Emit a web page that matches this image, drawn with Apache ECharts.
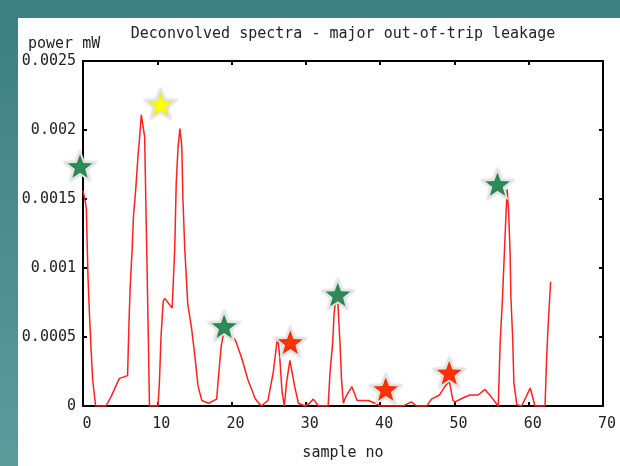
<!DOCTYPE html>
<html><head><meta charset="utf-8">
<script src="https://cdn.jsdelivr.net/npm/echarts@6/dist/echarts.min.js"></script>
<style>html,body{margin:0;padding:0;background:#fff}#c{width:620px;height:466px}</style>
</head><body><div id="c"></div>
<script>
// ---- data ----
const sampleNo = [0,0.25,0.45,0.67,0.85,1.07,1.3,1.7,3.1,3.8,4.9,6.0,6.2,6.35,6.6,6.8,7.1,7.4,7.6,7.85,8.1,8.3,8.45,8.6,8.75,8.95,10.1,10.3,10.5,10.8,11.0,12.0,12.35,12.55,12.8,13.05,13.3,13.45,13.7,14.1,14.6,15.0,15.5,16.0,16.9,18.0,18.2,18.6,18.9,19.2,20.5,21.4,22.2,23.2,24.0,24.9,25.6,26.1,26.25,26.5,26.8,27.1,27.4,27.85,28.5,29.0,29.9,30.5,31.0,31.7,33.0,33.25,33.6,33.8,34.05,34.3,34.6,34.8,35.05,35.4,36.2,36.9,38.4,39.3,40.0,43.1,44.2,44.9,46.3,46.9,48.0,48.7,49.3,49.8,50.1,51.2,52.1,53.2,54.1,54.9,55.9,56.15,56.45,56.7,56.95,57.1,57.3,57.5,57.6,57.85,58.0,58.4,59.05,60.2,60.85,62.2,62.4,62.6,62.95];
const powerMw = [0.00156,0.00150,0.00143,0.00094,0.00069,0.00043,0.00019,0,0,0.00007,0.00020,0.00022,0.00062,0.00086,0.00112,0.00138,0.00157,0.00181,0.00193,0.00211,0.00212,0.00195,0.00150,0.00108,0.00062,0,0,0.00019,0.00050,0.00076,0.00078,0.00071,0.00114,0.00162,0.00188,0.00201,0.00188,0.00150,0.00114,0.00074,0.00057,0.00039,0.00014,0.00004,0.00002,0.00005,0.00019,0.00043,0.00052,0.00053,0.00048,0.00034,0.00019,0.00005,0,0.00004,0.00024,0.00046,0.00049,0.00034,0.00010,0,0.00017,0.00033,0.00014,0.00002,0,0.00002,0.00005,0,0,0.00024,0.00045,0.00067,0.00079,0.00076,0.00045,0.00019,0.00002,0.00007,0.00014,0.00004,0.00004,0.00002,0,0,0.00003,0,0,0.00005,0.00008,0.00014,0.00018,0.00004,0.00003,0.00006,0.00008,0.00008,0.00012,0.00007,0,0.00045,0.00076,0.00108,0.00140,0.00157,0.00140,0.00110,0.00079,0.00048,0.00017,0.00001,0,0.00013,0,0,0.00033,0.00057,0.00090];

const greenStarX = [-0.4, 19.0, 34.3, 55.8];
const greenStarY = [0.00174, 0.00058, 0.00081, 0.00161];
const yellowStarX = [10.45];
const yellowStarY = [0.00219];
const redStarX = [27.9, 40.75, 49.3];
const redStarY = [0.000464, 0.000124, 0.000243];

const xTicks = [0, 10, 20, 30, 40, 50, 60, 70];
const yTicks = [0, 0.0005, 0.001, 0.0015, 0.002, 0.0025];

const titleText = 'Deconvolved spectra - major out-of-trip leakage';
const xName = 'sample no';
const yName = 'power mW';

// ---- build ----
const zip = (a, b) => a.map((v, i) => [v, b[i]]);
function starPath() {
  let p = '';
  for (let i = 0; i < 10; i++) {
    const r = i % 2 ? 0.42 : 1;
    const a = -Math.PI / 2 + i * Math.PI / 5;
    p += (i ? 'L' : 'M') + (r * Math.cos(a)).toFixed(4) + ' ' + (r * Math.sin(a)).toFixed(4) + ' ';
  }
  return 'path://' + p + 'Z';
}
const STAR = starPath();
const FONT = 'DejaVu Sans Mono';
const txt = { fontFamily: FONT, fontSize: 15, color: '#222' };

function starSeries(xsArr, ysArr, color) {
  return {
    type: 'scatter', xAxisIndex: 0, yAxisIndex: 0, clip: false, z: 5,
    symbol: STAR, symbolSize: 30, symbolKeepAspect: true,
    itemStyle: { color: color, borderColor: '#e4e4e4', borderWidth: 2, opacity: 1,
      shadowBlur: 3, shadowColor: 'rgba(0,0,0,0.15)' },
    emphasis: { disabled: true },
    data: zip(xsArr, ysArr)
  };
}

const axisLine = { show: true, onZero: false, lineStyle: { color: '#000', width: 2 } };
const axisTick = { show: true, inside: true, length: 4, lineStyle: { color: '#000', width: 2 } };

const xMin = xTicks[0], xMax = xTicks[xTicks.length - 1], xInt = xTicks[1] - xTicks[0];
const yMin = yTicks[0], yMax = yTicks[yTicks.length - 1], yInt = yTicks[1] - yTicks[0];

const chart = echarts.init(document.getElementById('c'), null, { renderer: 'canvas' });
chart.setOption({
  animation: false,
  backgroundColor: '#ffffff',
  graphic: [
    { type: 'rect', left: 0, top: 0, z: 100, shape: { width: 18, height: 466 },
      style: { fill: new echarts.graphic.LinearGradient(0, 0, 0, 1, [
        { offset: 0, color: '#3d7e7f' }, { offset: 1, color: '#5c9b9a' }]) } },
    { type: 'rect', left: 0, top: 0, z: 100, shape: { width: 620, height: 18 },
      style: { fill: '#3f8080' } },
    { type: 'text', left: 28, top: 37, z: 50,
      style: { text: yName, font: '15px "' + FONT + '"', fill: '#222' } }
  ],
  title: {
    text: titleText, left: 343, top: 27, textAlign: 'center', padding: 0,
    textStyle: { fontFamily: FONT, fontSize: 15, fontWeight: 'normal', color: '#222' }
  },
  grid: { left: 83, right: 17, top: 61, bottom: 56, containLabel: false },
  xAxis: [
    { type: 'value', position: 'bottom', min: xMin, max: xMax, interval: xInt,
      axisLine, axisTick, splitLine: { show: false },
      axisLabel: Object.assign({ margin: 11, padding: [0, 0, 0, 8] }, txt),
      name: xName, nameLocation: 'middle', nameGap: 40, nameTextStyle: txt },
    { type: 'value', position: 'top', min: xMin, max: xMax, interval: xInt,
      axisLine, axisTick, splitLine: { show: false }, axisLabel: { show: false } }
  ],
  yAxis: [
    { type: 'value', position: 'left', min: yMin, max: yMax, interval: yInt,
      axisLine, axisTick, splitLine: { show: false },
      axisLabel: Object.assign({ margin: 7 }, txt) },
    { type: 'value', position: 'right', min: yMin, max: yMax, interval: yInt,
      axisLine, axisTick, splitLine: { show: false }, axisLabel: { show: false } }
  ],
  series: [
    { type: 'line', xAxisIndex: 0, yAxisIndex: 0, showSymbol: false, z: 3,
      lineStyle: { color: '#ff2020', width: 1.5 }, itemStyle: { color: '#ff2020' },
      emphasis: { disabled: true },
      data: zip(sampleNo, powerMw) },
    starSeries(greenStarX, greenStarY, '#2e8b57'),
    starSeries(yellowStarX, yellowStarY, '#ffff00'),
    starSeries(redStarX, redStarY, '#ff3300')
  ]
});
</script></body></html>
